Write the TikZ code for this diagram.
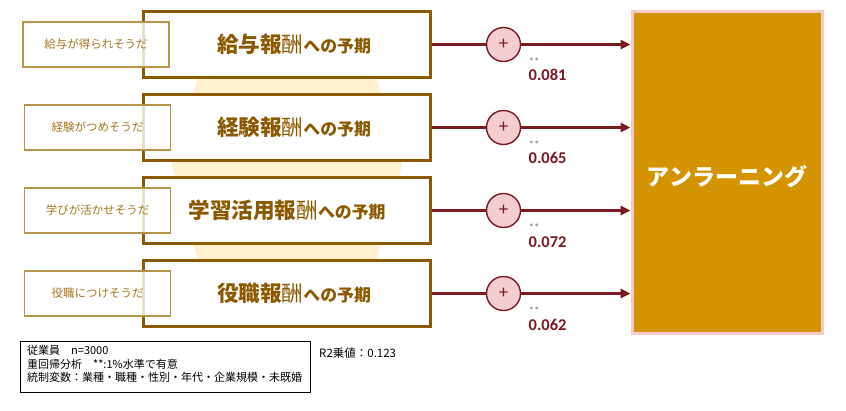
\documentclass[tikz,border=0pt]{standalone}
\usepackage{fontspec}
\setmainfont{Noto Sans CJK JP}
\newfontfamily\numfont{Carlito}
\usetikzlibrary{arrows.meta,positioning}
\definecolor{mainbrd}{HTML}{8C5A00}
\definecolor{maintxt}{HTML}{8B5A00}
\definecolor{subbrd}{HTML}{B8934A}
\definecolor{subtxt}{HTML}{A5771F}
\definecolor{hexfill}{HTML}{FFF1CF}
\definecolor{circfill}{HTML}{F4CDD0}
\definecolor{darkred}{HTML}{7B1A20}
\definecolor{bigfill}{HTML}{D49300}
\definecolor{bigbrd}{HTML}{F7C9C9}
\definecolor{stargray}{HTML}{8A6A80}
\tikzset{
  mainbox/.style={draw=mainbrd, line width=3pt, fill=white, minimum width=287pt, minimum height=66pt, inner sep=0pt},
  subbox/.style={draw=subbrd, line width=1.1pt, fill=white, fill opacity=0.8, text opacity=1, minimum width=146pt, minimum height=45pt, inner sep=0pt, text=subtxt, font=\fontsize{11.5}{12}\selectfont},
  plus/.style={circle, draw=darkred, line width=1.4pt, fill=circfill, minimum size=34pt, inner sep=0pt, text=darkred, font=\numfont\fontsize{19}{19}\selectfont},
  conn/.style={draw=darkred, line width=2.8pt},
  arr/.style={conn, -{Triangle[length=10pt,width=9pt]}},
  coef/.style={text=darkred, align=left, font=\numfont\fontsize{16.5}{15.6}\selectfont, inner sep=0pt, anchor=north west},
  maintext/.style={text=maintxt, inner sep=0pt}
}
\newcommand{\mtxt}[1]{{\fontsize{21.6}{22}\selectfont\bfseries #1}{\fontsize{21.6}{22}\selectfont 酬}{\fontsize{16.9}{17}\selectfont\bfseries への予期}}
\newcommand{\cf}[1]{{\fontsize{11}{15.6}\selectfont\color{stargray}**}\\{\bfseries #1}}
\begin{document}
\begin{tikzpicture}[x=1pt,y=-1pt]
\useasboundingbox (0,0) rectangle (846,410);
\fill[white] (0,0) rectangle (846,410);
% hexagon background
\fill[hexfill] (172,165) -- (209,40) -- (365,40) -- (402,165) -- (368,290) -- (206,290) -- cycle;
% main boxes
\node[mainbox] (m1) at (286.5,44.5) {};
\node[mainbox] (m2) at (286.5,127.5) {};
\node[mainbox] (m3) at (286.5,210.5) {};
\node[mainbox] (m4) at (286.5,293.5) {};
\node[maintext] (t1) at (294,44.5) {\mtxt{給与報}};
\node[maintext] (t2) at (294,127.5) {\mtxt{経験報}};
\node[maintext] (t3) at (287,210.5) {\mtxt{学習活用報}};
\node[maintext] (t4) at (294,293.5) {\mtxt{役職報}};
% sub boxes
\node[subbox] (s1) at (96,44.5) {給与が得られそうだ};
\node[subbox] (s2) at (97.5,127.5) {経験がつめそうだ};
\node[subbox] (s3) at (97.5,210.5) {学びが活かせそうだ};
\node[subbox] (s4) at (97.5,293.5) {役職につけそうだ};
% big box
\node[draw=bigbrd, line width=3pt, fill=bigfill, minimum width=190pt, minimum height=322pt, inner sep=0pt] (big) at (727,172) {};
\node[text=white, font=\fontsize{23}{24}\selectfont\bfseries, inner sep=0pt] (bigt) at (727,177) {アンラーニング};
% circles
\node[plus] (c1) at (503.5,44.5) {+};
\node[plus] (c2) at (503.5,127.5) {+};
\node[plus] (c3) at (503.5,210.5) {+};
\node[plus] (c4) at (503.5,293.5) {+};
% connectors
\foreach \i in {1,...,4} {
  \draw[conn] (m\i.east) -- (c\i.west);
  \draw[arr] (c\i.east) -- (c\i -| big.west);
}
% coefficients
\node[coef] (k1) at (528.5,57) {\cf{0.081}};
\node[coef] (k2) at (528.5,140) {\cf{0.065}};
\node[coef] (k3) at (528.5,223.5) {\cf{0.072}};
\node[coef] (k4) at (528.5,306.5) {\cf{0.062}};
% notes
\node[draw=black, line width=0.8pt, minimum width=290pt, minimum height=51pt, inner sep=0pt] (note) at (165,366.5) {};
\node[anchor=north west, inner sep=0pt, align=left, font=\fontsize{11}{13.5}\selectfont] (notet) at (27,345.5) {従業員\quad n=3000\\重回帰分析\quad **:1\%水準で有意\\統制変数：業種・職種・性別・年代・企業規模・未既婚};
\node[anchor=west, inner sep=0pt, font=\fontsize{11.5}{12}\selectfont] (r2) at (319,353) {R2乗値：0.123};
\end{tikzpicture}
\end{document}
